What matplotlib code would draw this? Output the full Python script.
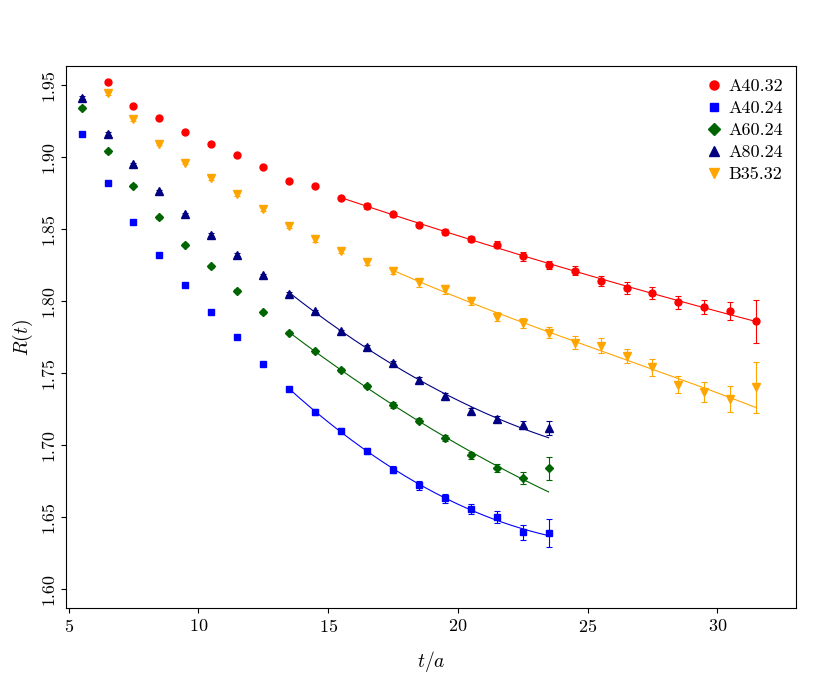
import matplotlib
matplotlib.use("Agg")
import matplotlib.pyplot as plt
from matplotlib.lines import Line2D
import numpy as np

plt.rcParams["font.family"] = "serif"
plt.rcParams["font.serif"] = ["cmr10"]
plt.rcParams["mathtext.fontset"] = "cm"
plt.rcParams["axes.formatter.use_mathtext"] = True

# --- data: t values (half-integers) and R(t) per ensemble
t_a4032 = np.arange(5.5, 32, 1.0)
r_a4032 = [1.966, 1.952, 1.935, 1.927, 1.917, 1.909, 1.901, 1.893, 1.883, 1.880, 1.8715,
           1.866, 1.860, 1.853, 1.848, 1.843, 1.839, 1.831, 1.825, 1.821, 1.814, 1.809,
           1.8055, 1.799, 1.796, 1.793, 1.786]
e_a4032 = [0.001, 0.001, 0.001, 0.001, 0.001, 0.001, 0.001, 0.001, 0.001, 0.001, 0.0015,
           0.002, 0.002, 0.002, 0.002, 0.002, 0.0025, 0.003, 0.003, 0.003, 0.0035, 0.004,
           0.004, 0.0045, 0.005, 0.006, 0.015]

t_24 = np.arange(5.5, 24, 1.0)
r_a4024 = [1.916, 1.882, 1.855, 1.832, 1.811, 1.792, 1.775, 1.756, 1.739, 1.723, 1.710,
           1.696, 1.683, 1.672, 1.663, 1.6555, 1.650, 1.6395, 1.639]
e_a4024 = [0.001, 0.001, 0.001, 0.001, 0.001, 0.001, 0.001, 0.001, 0.0015, 0.002, 0.002,
           0.002, 0.0025, 0.003, 0.003, 0.0035, 0.004, 0.005, 0.01]
r_a6024 = [1.934, 1.904, 1.880, 1.858, 1.839, 1.824, 1.807, 1.792, 1.778, 1.765, 1.752,
           1.741, 1.728, 1.717, 1.705, 1.693, 1.684, 1.677, 1.684]
e_a6024 = [0.001, 0.001, 0.001, 0.001, 0.001, 0.001, 0.001, 0.001, 0.001, 0.001, 0.0015,
           0.0015, 0.002, 0.002, 0.002, 0.0025, 0.003, 0.004, 0.008]
r_a8024 = [1.941, 1.916, 1.895, 1.876, 1.860, 1.846, 1.832, 1.818, 1.805, 1.793, 1.779,
           1.768, 1.757, 1.745, 1.734, 1.724, 1.718, 1.714, 1.712]
e_a8024 = [0.001, 0.001, 0.001, 0.001, 0.001, 0.001, 0.001, 0.001, 0.001, 0.001, 0.001,
           0.0015, 0.0015, 0.002, 0.002, 0.002, 0.002, 0.003, 0.005]

t_b3532 = np.arange(6.5, 32, 1.0)
r_b3532 = [1.944, 1.926, 1.909, 1.896, 1.885, 1.874, 1.864, 1.852, 1.843, 1.835, 1.827,
           1.821, 1.813, 1.808, 1.800, 1.789, 1.785, 1.778, 1.771, 1.769, 1.762, 1.754,
           1.742, 1.737, 1.732, 1.740]
e_b3532 = [0.001, 0.001, 0.001, 0.001, 0.001, 0.001, 0.0015, 0.0015, 0.002, 0.002, 0.002,
           0.0025, 0.003, 0.003, 0.003, 0.003, 0.0035, 0.004, 0.0045, 0.005, 0.005, 0.006,
           0.006, 0.007, 0.009, 0.018]

# name, t, R, err, colour, marker, fit start, fit degree
series = [
    ("A40.32", t_a4032, r_a4032, e_a4032, "red", "o", 15.5, 2),
    ("A40.24", t_24, r_a4024, e_a4024, "blue", "s", 13.5, 2),
    ("A60.24", t_24, r_a6024, e_a6024, "darkgreen", "D", 13.5, 2),
    ("A80.24", t_24, r_a8024, e_a8024, "navy", "^", 13.5, 2),
    ("B35.32", t_b3532, r_b3532, e_b3532, "orange", "v", 17.5, 3),
]

fig = plt.figure(figsize=(8.3, 6.92), dpi=100)
ax = fig.add_axes([0.0795, 0.1214, 0.8795, 0.7832])

handles = []
for name, t, r, e, col, mk, tmin, deg in series:
    r = np.asarray(r); e = np.asarray(e)
    ms = {"o": 5, "s": 4.5, "D": 4.5, "^": 6, "v": 6}[mk]
    ax.errorbar(t, r, yerr=e, fmt=mk, color=col, ms=ms, elinewidth=0.8,
                capsize=2, capthick=0.8)
    sel = t >= tmin
    coef = np.polyfit(t[sel], r[sel], deg, w=1 / e[sel])
    tt = np.linspace(tmin, t[-1], 200)
    ax.plot(tt, np.polyval(coef, tt), color=col, lw=0.8)
    handles.append(Line2D([], [], ls="none", marker=mk, color=col, ms=ms + 1.5, label=name))

ax.set_xlim(4.9, 33.03)
ax.set_ylim(1.587, 1.963)
ax.set_xticks([5, 10, 15, 20, 25, 30])
yt = np.arange(1.60, 1.951, 0.05)
ax.set_yticks(yt)
ax.set_yticklabels([f"{v:.2f}" for v in yt], rotation=90, va="center")
ax.tick_params(labelsize=13)
ax.set_xlabel("$t/a$", fontsize=14, labelpad=10)
ax.set_ylabel("$R(t)$", fontsize=14)
ax.legend(handles=handles, loc="upper right", frameon=False, fontsize=13, handletextpad=0.2,
          labelspacing=0.35, borderaxespad=0.3, handlelength=1.2)

fig.savefig("out.png", dpi=100)
